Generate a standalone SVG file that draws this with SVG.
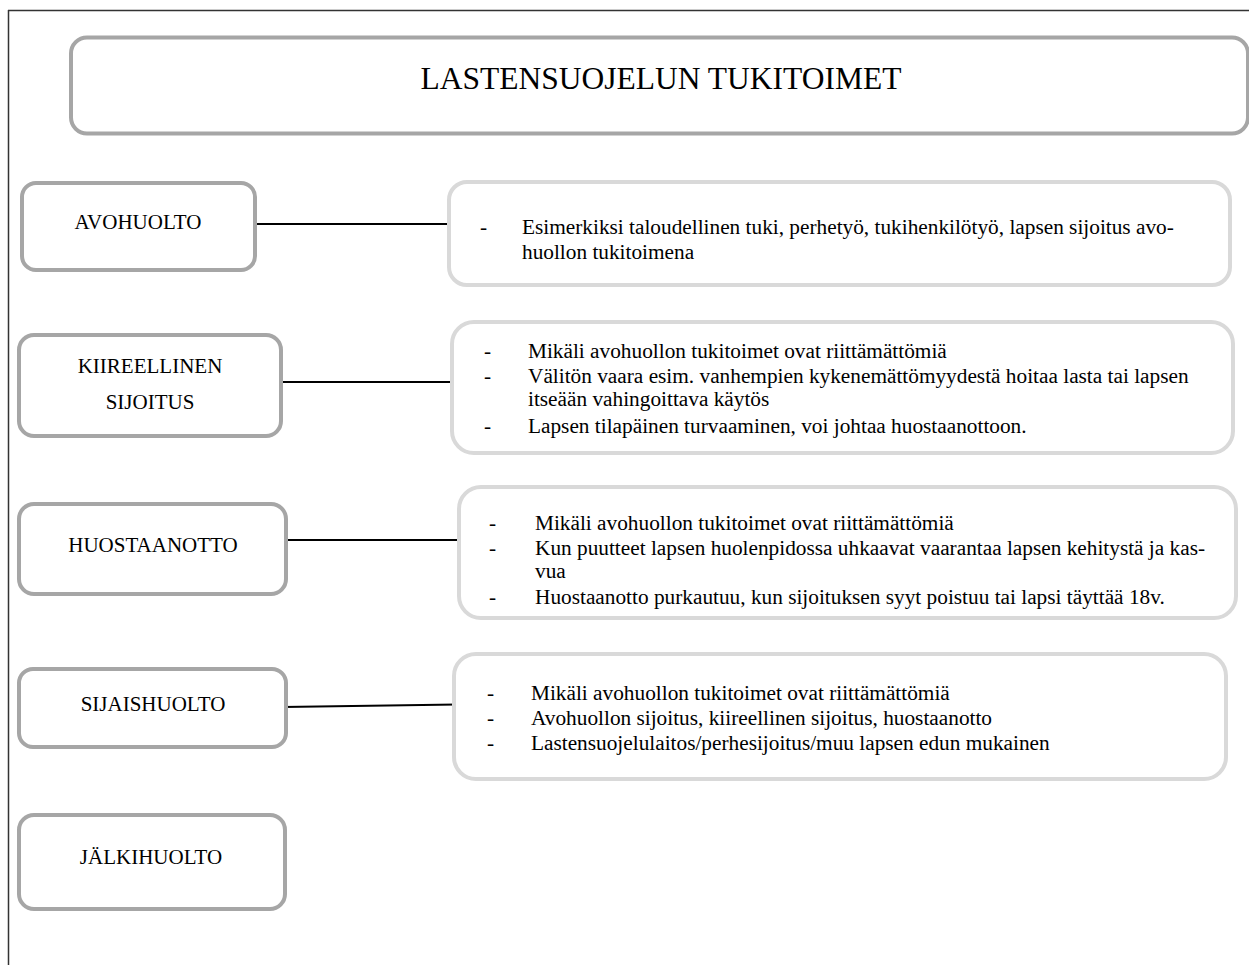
<svg xmlns="http://www.w3.org/2000/svg" width="1249" height="965" viewBox="0 0 1249 965">
<style>
  .frame { stroke: #333333; stroke-width: 1.5; fill: none; }
  .main { fill: #ffffff; stroke: #a6a6a6; stroke-width: 4; }
  .detail { fill: #ffffff; stroke: #d9d9d9; stroke-width: 4; }
  .conn { stroke: #000000; stroke-width: 2; fill: none; }
  text { font-family: "Liberation Serif", "Times New Roman", serif; fill: #000000; }
  .title { font-size: 31.5px; text-anchor: middle; }
  .label { font-size: 21px; text-anchor: middle; }
  .item { font-size: 21.3px; }
</style>
<rect width="1249" height="965" fill="#ffffff"/>
<g id="frame">
  <line class="frame" x1="8" y1="10.5" x2="1249" y2="10.5"/>
  <line class="frame" x1="8.5" y1="10" x2="8.5" y2="965"/>
</g>
<g id="title">
  <rect class="main" x="71" y="37.5" width="1177" height="96" rx="16"/>
  <text class="title" x="661" y="89">LASTENSUOJELUN TUKITOIMET</text>
</g>
<g id="connectors">
  <line class="conn" x1="257" y1="224" x2="450" y2="224"/>
  <line class="conn" x1="283" y1="382" x2="454" y2="382"/>
  <line class="conn" x1="288" y1="540" x2="457" y2="540"/>
  <line class="conn" x1="283" y1="707" x2="457" y2="704.5"/>
</g>
<g id="avohuolto">
  <rect class="main" x="22" y="183" width="233" height="87" rx="14"/>
  <text class="label" x="138" y="229">AVOHUOLTO</text>
</g>
<g id="kiireellinen">
  <rect class="main" x="19" y="335" width="262" height="101" rx="15"/>
  <text class="label" x="150" y="373">KIIREELLINEN</text>
  <text class="label" x="150" y="409">SIJOITUS</text>
</g>
<g id="huostaanotto">
  <rect class="main" x="19" y="504" width="267" height="90" rx="15"/>
  <text class="label" x="153" y="552">HUOSTAANOTTO</text>
</g>
<g id="sijaishuolto">
  <rect class="main" x="19" y="669" width="267" height="78" rx="14"/>
  <text class="label" x="153" y="711">SIJAISHUOLTO</text>
</g>
<g id="jalkihuolto">
  <rect class="main" x="19" y="815" width="266" height="94" rx="15"/>
  <text class="label" x="151" y="864">JÄLKIHUOLTO</text>
</g>
<g id="detail-avohuolto">
  <rect class="detail" x="449" y="182" width="781" height="103" rx="18"/>
  <text class="item" x="480" y="234">-</text>
  <text class="item" x="522" y="234">Esimerkiksi taloudellinen tuki, perhetyö, tukihenkilötyö, lapsen sijoitus avo-</text>
  <text class="item" x="522" y="259">huollon tukitoimena</text>
</g>
<g id="detail-kiireellinen">
  <rect class="detail" x="452" y="322" width="781" height="131" rx="22"/>
  <text class="item" x="484" y="358">-</text>
  <text class="item" x="528" y="358">Mikäli avohuollon tukitoimet ovat riittämättömiä</text>
  <text class="item" x="484" y="383">-</text>
  <text class="item" x="528" y="383">Välitön vaara esim. vanhempien kykenemättömyydestä hoitaa lasta tai lapsen</text>
  <text class="item" x="528" y="406">itseään vahingoittava käytös</text>
  <text class="item" x="484" y="433">-</text>
  <text class="item" x="528" y="433">Lapsen tilapäinen turvaaminen, voi johtaa huostaanottoon.</text>
</g>
<g id="detail-huostaanotto">
  <rect class="detail" x="459" y="487" width="777" height="131" rx="22"/>
  <text class="item" x="489" y="530">-</text>
  <text class="item" x="535" y="530">Mikäli avohuollon tukitoimet ovat riittämättömiä</text>
  <text class="item" x="489" y="555">-</text>
  <text class="item" x="535" y="555">Kun puutteet lapsen huolenpidossa uhkaavat vaarantaa lapsen kehitystä ja kas-</text>
  <text class="item" x="535" y="578">vua</text>
  <text class="item" x="489" y="604">-</text>
  <text class="item" x="535" y="604">Huostaanotto purkautuu, kun sijoituksen syyt poistuu tai lapsi täyttää 18v.</text>
</g>
<g id="detail-sijaishuolto">
  <rect class="detail" x="454" y="654" width="772" height="125" rx="22"/>
  <text class="item" x="487" y="700">-</text>
  <text class="item" x="531" y="700">Mikäli avohuollon tukitoimet ovat riittämättömiä</text>
  <text class="item" x="487" y="725">-</text>
  <text class="item" x="531" y="725">Avohuollon sijoitus, kiireellinen sijoitus, huostaanotto</text>
  <text class="item" x="487" y="750">-</text>
  <text class="item" x="531" y="750">Lastensuojelulaitos/perhesijoitus/muu lapsen edun mukainen</text>
</g>
</svg>
